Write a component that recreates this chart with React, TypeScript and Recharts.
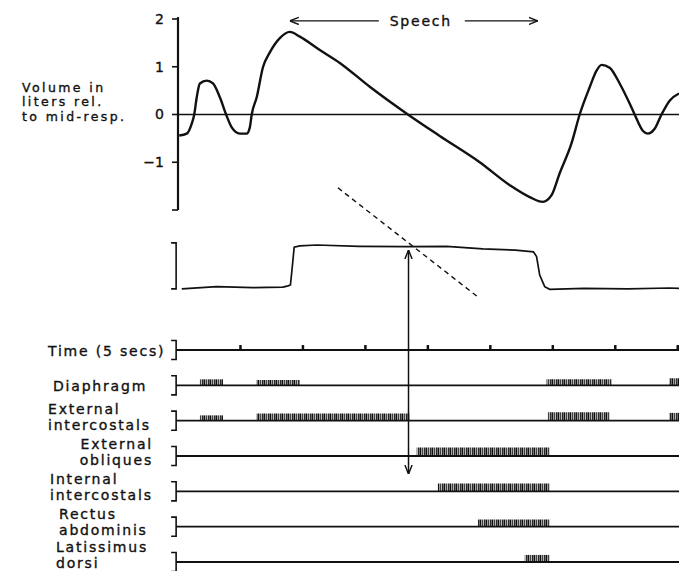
import React from "react";
import {
  ComposedChart,
  Line,
  XAxis,
  YAxis,
  ReferenceLine,
  ReferenceArea,
  ReferenceDot,
} from "recharts";

const FONT = "'DejaVu Sans', Verdana, sans-serif";
const INK = "#111";

// lung volume, litres rel. to mid-respiration, against time (s)
const volTime = [0.02, 0.14, 0.22, 0.26, 0.3, 0.35, 0.46, 0.56, 0.67, 0.77, 0.86, 0.99, 1.1, 1.15, 1.18, 1.26, 1.36, 1.47, 1.63, 1.79, 1.95, 2.27, 2.59, 3.07, 3.68, 4.19, 4.83, 5.31, 5.63, 5.84, 5.98, 6.11, 6.3, 6.43, 6.59, 6.7, 6.78, 6.91, 7.07, 7.23, 7.31, 7.44, 7.52, 7.63, 7.74, 7.87, 8.02];
const volLitres = [-0.44, -0.4, -0.19, 0, 0.36, 0.65, 0.71, 0.65, 0.36, 0, -0.27, -0.4, -0.4, -0.27, 0, 0.36, 0.99, 1.3, 1.6, 1.73, 1.63, 1.35, 1.08, 0.58, 0, -0.45, -1.0, -1.48, -1.73, -1.83, -1.69, -1.23, -0.6, 0, 0.57, 0.92, 1.04, 0.98, 0.65, 0.23, 0, -0.34, -0.4, -0.3, 0, 0.29, 0.44];

// pressure trace (0 = rest level, 1 = speech plateau)
const presTime = [0.06, 0.62, 1.2, 1.68, 1.76, 1.8, 1.83, 1.86, 1.95, 2.22, 2.9, 3.66, 4.3, 4.88, 5.4, 5.69, 5.74, 5.79, 5.87, 5.95, 6.5, 7.2, 7.87, 8.02];
const presLevel = [-0.02, 0.03, 0.01, 0.02, 0.05, 0.07, 0.5, 0.95, 0.98, 1.0, 0.97, 0.96, 0.97, 0.91, 0.88, 0.84, 0.73, 0.3, 0.03, -0.03, -0.01, -0.02, 0.0, -0.01];

const volumeTicks = [-2, -1, 0, 1, 2];
const timeMarks = [1, 2, 3, 4, 5, 6, 7, 8];
const speechSpan = [1.79, 5.76];
const volumeLabel = ["Volume in", "liters rel.", "to mid-resp."];

const trackNames = [
  ["Time (5 secs)"],
  ["Diaphragm"],
  ["External", "intercostals"],
  ["External", "obliques"],
  ["Internal", "intercostals"],
  ["Rectus", "abdominis"],
  ["Latissimus", "dorsi"],
];

// EMG bursts: [from s, to s, amplitude]
const diaphragmBursts = [[0.35, 0.72, 0.17], [1.26, 1.95, 0.15], [5.9, 6.94, 0.17], [7.86, 8.02, 0.2]];
const extIntercostalBursts = [[0.35, 0.72, 0.15], [1.26, 3.71, 0.2], [5.92, 6.91, 0.24], [7.86, 8.02, 0.22]];
const extObliqueBursts = [[3.82, 5.95, 0.24]];
const intIntercostalBursts = [[4.16, 5.95, 0.22]];
const rectusBursts = [[4.8, 5.95, 0.2]];
const latissimusBursts = [[5.55, 5.95, 0.2]];
const burstsByTrack = [[], diaphragmBursts, extIntercostalBursts, extObliqueBursts, intIntercostalBursts, rectusBursts, latissimusBursts];

// annotations: dashed guide (time, pressure) and speech-onset arrow (time, track units)
const dashedGuide = [[2.56, 2.33], [4.82, -0.23]];
const onsetArrow = [3.69, 2.83, -3.51];

// label placement for the track names (px)
const labelLayout = [
  { x: 48, anchor: "start", dy: 0 },
  { x: 53, anchor: "start", dy: 0 },
  { x: 48, anchor: "start", dy: 0 },
  { x: 153, anchor: "end", dy: 0 },
  { x: 50, anchor: "start", dy: 0 },
  { x: 59, anchor: "start", dy: -1 },
  { x: 56, anchor: "start", dy: -3 },
];

const W = 679;
const H = 571;

// domain so that value v0 sits at pixel y0 and v1 at y1
const fit = (v0: number, y0: number, v1: number, y1: number): [number, number] => {
  const k = (v1 - v0) / (y1 - y0);
  return [v0 + (H - y0) * k, v0 - y0 * k];
};

const volData = volTime.map((t, i) => ({ t, v: volLitres[i] }));
const presData = presTime.map((t, i) => ({ t, p: presLevel[i] }));

const textStyle = {
  fontFamily: FONT,
  fontSize: 14,
  fill: INK,
  stroke: INK,
  strokeWidth: 0.35,
  letterSpacing: 1.8,
};

function Bracket(props: any) {
  const { x1, y1, y2, lines = [], labelX = 0, anchor = "start", dy = 0 } = props;
  const top = Math.min(y1, y2);
  const bottom = Math.max(y1, y2);
  const mid = (top + bottom) / 2 + dy;
  const base = lines.length === 1 ? [mid + 6] : [mid - 7, mid + 9];
  return (
    <g>
      <path
        d={`M${x1 - 5},${top} L${x1},${top} L${x1},${bottom} L${x1 - 5},${bottom}`}
        fill="none"
        stroke={INK}
        strokeWidth={1.6}
      />
      {lines.map((s: string, i: number) => (
        <text key={i} x={labelX} y={base[i]} textAnchor={anchor} style={textStyle}>
          {s}
        </text>
      ))}
    </g>
  );
}

function SpeechArrow(props: any) {
  const { x1, x2, y1 } = props;
  const cx = (x1 + x2) / 2 + 7;
  return (
    <g>
      <line x1={cx - 42} y1={y1} x2={x1} y2={y1} stroke={INK} strokeWidth={1.3} markerEnd="url(#openArrow)" />
      <line x1={cx + 44} y1={y1} x2={x2} y2={y1} stroke={INK} strokeWidth={1.3} markerEnd="url(#openArrow)" />
      <text x={cx} y={y1 + 5} textAnchor="middle" style={textStyle}>
        Speech
      </text>
    </g>
  );
}

function DoubleArrow(props: any) {
  const { x1, y1, x2, y2 } = props;
  const my = (y1 + y2) / 2;
  return (
    <g>
      <line x1={x1} y1={my} x2={x1} y2={y1} stroke={INK} strokeWidth={1.5} markerEnd="url(#openArrow)" />
      <line x1={x2} y1={my} x2={x2} y2={y2} stroke={INK} strokeWidth={1.5} markerEnd="url(#openArrow)" />
    </g>
  );
}

export default function App() {
  const volDomain = fit(2, 19, -2, 210);
  const presDomain = fit(0, 288, 1, 245);
  const laneDomain = fit(0, 350, -6, 562);

  return (
    <div style={{ position: "absolute", left: 0, top: 0, width: W, height: H, background: "#fff" }}>
      <svg width={0} height={0} style={{ position: "absolute" }}>
        <defs>
          <pattern id="emgSpikes" patternUnits="userSpaceOnUse" width={6} height={40}>
            <rect x={0} y={0} width={1.4} height={40} fill={INK} />
            <rect x={2.2} y={0} width={1.1} height={40} fill={INK} />
            <rect x={4.1} y={0} width={1.5} height={40} fill={INK} />
          </pattern>
          <marker
            id="openArrow"
            viewBox="0 0 10 10"
            refX={10}
            refY={5}
            markerWidth={9}
            markerHeight={9}
            markerUnits="userSpaceOnUse"
            orient="auto"
          >
            <path d="M0,1 L10,5 L0,9" fill="none" stroke={INK} strokeWidth={1.6} />
          </marker>
        </defs>
      </svg>

      <ComposedChart width={W} height={H} margin={{ top: 0, right: 0, bottom: 0, left: 118 }}>
        <XAxis type="number" dataKey="t" domain={[0, 8.02]} hide allowDataOverflow />
        <YAxis
          yAxisId="vol"
          type="number"
          domain={volDomain}
          ticks={volumeTicks}
          interval={0}
          width={60}
          axisLine={false}
          tickLine={{ stroke: INK, strokeWidth: 1.6 }}
          tickSize={6}
          tickMargin={8}
          tick={{ fontFamily: FONT, fontSize: 14, fill: INK, stroke: INK, strokeWidth: 0.35 }}
          tickFormatter={(v: number) => (v === -2 ? "" : v < 0 ? `\u2212${-v}` : String(v))}
          allowDataOverflow
        />
        <YAxis yAxisId="pres" orientation="right" width={0} type="number" domain={presDomain} hide allowDataOverflow />
        <YAxis yAxisId="lane" orientation="right" width={0} type="number" domain={laneDomain} hide allowDataOverflow />

        {/* volume panel */}
        <ReferenceLine yAxisId="vol" y={0} stroke={INK} strokeWidth={1.5} />
        <ReferenceLine
          yAxisId="vol"
          segment={[{ x: 0, y: -2 }, { x: 0, y: 2.04 }]}
          stroke={INK}
          strokeWidth={2.2}
        />
        <ReferenceDot
          yAxisId="vol"
          x={0}
          y={0}
          r={0}
          shape={(p: any) => (
            <g>
              {volumeLabel.map((s, i) => (
                <text
                  key={i}
                  x={p.cx - 156}
                  y={p.cy - 23 + i * 14.5}
                  style={{ ...textStyle, fontSize: 12.5, letterSpacing: 2.4 }}
                >
                  {s}
                </text>
              ))}
            </g>
          )}
        />
        <ReferenceLine
          yAxisId="vol"
          segment={[{ x: speechSpan[0], y: 1.96 }, { x: speechSpan[1], y: 1.96 }]}
          shape={(p: any) => <SpeechArrow {...p} />}
        />
        <Line
          yAxisId="vol"
          data={volData}
          dataKey="v"
          type="monotone"
          stroke={INK}
          strokeWidth={2.4}
          dot={false}
          isAnimationActive={false}
        />

        {/* pressure panel */}
        <ReferenceLine
          yAxisId="pres"
          segment={[{ x: -0.03, y: 1.05 }, { x: -0.03, y: -0.02 }]}
          ifOverflow="visible"
          shape={(p: any) => <Bracket {...p} />}
        />
        <Line
          yAxisId="pres"
          data={presData}
          dataKey="p"
          type="linear"
          stroke={INK}
          strokeWidth={1.7}
          dot={false}
          isAnimationActive={false}
        />
        <ReferenceLine
          yAxisId="pres"
          segment={[{ x: dashedGuide[0][0], y: dashedGuide[0][1] }, { x: dashedGuide[1][0], y: dashedGuide[1][1] }]}
          stroke={INK}
          strokeWidth={1.4}
          strokeDasharray="5 4"
        />

        {/* EMG tracks */}
        {trackNames.map((lines, k) => (
          <ReferenceLine
            key={`b${k}`}
            yAxisId="lane"
            segment={[{ x: -0.03, y: -k + 0.27 }, { x: -0.03, y: -k - 0.27 }]}
            ifOverflow="visible"
            shape={(p: any) => (
              <Bracket
                {...p}
                lines={lines}
                labelX={labelLayout[k].x}
                anchor={labelLayout[k].anchor}
                dy={labelLayout[k].dy}
              />
            )}
          />
        ))}
        {trackNames.map((_, k) => (
          <ReferenceLine
            key={`l${k}`}
            yAxisId="lane"
            segment={[{ x: -0.03, y: -k }, { x: 8.02, y: -k }]}
            ifOverflow="visible"
            stroke={INK}
            strokeWidth={1.8}
          />
        ))}
        {timeMarks.map((t) => (
          <ReferenceLine
            key={`t${t}`}
            yAxisId="lane"
            segment={[{ x: t, y: 0 }, { x: t, y: 0.14 }]}
            ifOverflow="visible"
            stroke={INK}
            strokeWidth={2.5}
          />
        ))}
        {burstsByTrack.map((list, k) =>
          list.map(([from, to, amp], j) => (
            <ReferenceArea
              key={`e${k}-${j}`}
              yAxisId="lane"
              x1={from}
              x2={to}
              y1={-k}
              y2={-k + amp}
              ifOverflow="visible"
              fill="url(#emgSpikes)"
              fillOpacity={1}
              stroke="none"
            />
          ))
        )}
        <ReferenceLine
          yAxisId="lane"
          segment={[{ x: onsetArrow[0], y: onsetArrow[1] }, { x: onsetArrow[0], y: onsetArrow[2] }]}
          ifOverflow="visible"
          shape={(p: any) => <DoubleArrow {...p} />}
        />
      </ComposedChart>
    </div>
  );
}
